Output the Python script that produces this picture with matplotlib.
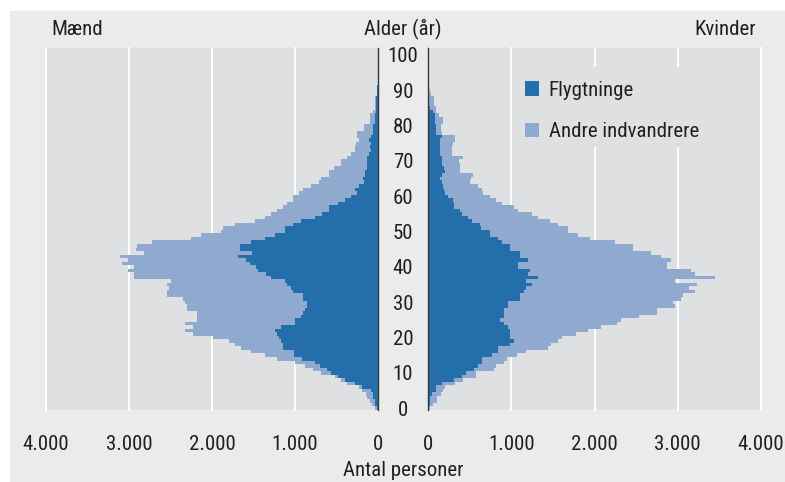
import matplotlib
matplotlib.use('Agg')
import matplotlib.pyplot as plt
import numpy as np
from matplotlib import font_manager, transforms
from matplotlib.patches import Rectangle

ages = np.arange(100)

# Mænd (venstre side)
men_refugees = [16, 36, 36, 56, 56, 84, 193, 277, 398, 482,
                567, 615, 700, 760, 917, 1013, 1013, 1142, 1146, 1170,
                1194, 1218, 1242, 1170, 1001, 1001, 929, 905, 880, 856,
                856, 905, 905, 1025, 1049, 1097, 1122, 1290, 1351, 1447,
                1471, 1544, 1592, 1688, 1520, 1664, 1664, 1532, 1363, 1242,
                1122, 1122, 1025, 929, 760, 675, 591, 591, 482, 398,
                326, 257, 277, 229, 169, 181, 157, 157, 133, 133,
                133, 133, 109, 84, 96, 84, 109, 84, 60, 60,
                60, 36, 36, 36, 28, 28, 28, 28, 28, 12,
                12, 12, 6, 4, 2, 1, 0, 0, 0, 0]
men_total = [36, 70, 96, 130, 145, 193, 230, 374, 440, 518,
             687, 784, 880, 1001, 1218, 1363, 1532, 1652, 1725, 1797,
             1990, 2231, 2328, 2231, 2328, 2183, 2183, 2183, 2303, 2303,
             2328, 2352, 2545, 2545, 2521, 2545, 2496, 2943, 2943, 3015,
             2943, 3087, 3015, 3111, 2822, 2918, 2900, 2726, 2255, 2135,
             1893, 1869, 1725, 1483, 1363, 1290, 1218, 1146, 1100, 1025,
             1025, 953, 905, 808, 712, 687, 591, 591, 531, 446,
             446, 374, 326, 277, 277, 265, 229, 253, 253, 169,
             169, 96, 96, 96, 60, 36, 36, 36, 36, 12,
             12, 12, 6, 4, 2, 1, 0, 0, 0, 0]

# Kvinder (højre side)
women_refugees = [8, 20, 24, 20, 44, 92, 92, 164, 308, 404,
                  452, 548, 596, 644, 644, 764, 836, 836, 980, 1028,
                  980, 980, 980, 956, 908, 860, 908, 908, 908, 956,
                  956, 1100, 1100, 1148, 1172, 1244, 1172, 1316, 1196, 1220,
                  1076, 1076, 1196, 1100, 1100, 980, 980, 884, 836, 740,
                  740, 632, 620, 524, 476, 404, 380, 308, 308, 296,
                  236, 200, 188, 176, 164, 140, 164, 200, 188, 164,
                  164, 164, 140, 140, 140, 140, 140, 164, 92, 92,
                  92, 80, 80, 80, 60, 20, 12, 8, 8, 6,
                  4, 2, 0, 0, 0, 0, 0, 0, 0, 0]
women_total = [20, 60, 104, 104, 152, 176, 200, 320, 416, 572,
               572, 788, 812, 908, 944, 1064, 1172, 1436, 1472, 1556,
               1604, 1772, 1916, 2084, 2276, 2324, 2540, 2756, 2756, 2972,
               2948, 3044, 3068, 3212, 3140, 3236, 2972, 3452, 3212, 3164,
               2876, 2876, 2924, 2804, 2684, 2468, 2468, 2252, 1940, 1796,
               1676, 1676, 1556, 1460, 1316, 1244, 1076, 1028, 884, 812,
               740, 656, 644, 596, 500, 512, 536, 380, 380, 380,
               368, 416, 284, 284, 284, 296, 320, 320, 164, 152,
               152, 176, 176, 128, 92, 92, 68, 68, 68, 32,
               20, 10, 4, 0, 0, 0, 0, 0, 0, 0]

x_ticks = [0, 1000, 2000, 3000, 4000]
x_labels = ['0', '1.000', '2.000', '3.000', '4.000']
age_ticks = list(range(0, 101, 10))

names = {f.name for f in font_manager.fontManager.ttflist}
fs = 14
for fam, size in [('Liberation Sans Narrow', 15), ('Roboto Condensed', 15),
                  ('Open Sans Condensed', 15), ('Roboto', 14)]:
    if fam in names:
        plt.rcParams['font.family'] = fam
        fs = size
        break

dark = '#236eab'
light = '#8fa9cf'
panel = '#dfe0e1'
outer = '#ebebec'
txt = '#231f20'

W, H = 785, 482
fig = plt.figure(figsize=(W / 100, H / 100), dpi=100, facecolor='white')
fig.patches.append(Rectangle((10 / W, 0), 775 / W, 471 / H, transform=fig.transFigure,
                             color=outer, zorder=-10))

axL = fig.add_axes([46 / W, 72 / H, 332 / W, 362 / H])
axR = fig.add_axes([428 / W, 72 / H, 333 / W, 362 / H])

for ax, ref, tot, inner in [(axL, men_refugees, men_total, 'right'),
                            (axR, women_refugees, women_total, 'left')]:
    ref = np.array(ref)
    tot = np.array(tot)
    ax.set_facecolor(panel)
    for v in x_ticks[1:]:
        ax.axvline(v, color='white', lw=1.4, zorder=0.5, clip_on=False)
    b1 = ax.barh(ages, ref, height=1, align='edge', color=dark, lw=0, zorder=2,
                 label='Flygtninge')
    b2 = ax.barh(ages, tot - ref, left=ref, height=1, align='edge', color=light, lw=0,
                 zorder=2, label='Andre indvandrere')
    ax.set_ylim(0, 102.5)
    ax.set_yticks([])
    ax.set_xticks(x_ticks)
    ax.set_xticklabels(x_labels)
    ax.tick_params(axis='x', length=0, labelsize=fs, labelcolor=txt, pad=18)
    for s in ax.spines.values():
        s.set_visible(False)
    ax.spines[inner].set_visible(True)
    ax.spines[inner].set_color('#3a3a3a')
    ax.spines[inner].set_linewidth(1.0)
    ax.spines[inner].set_zorder(4)

axL.set_xlim(4000, 0)
axR.set_xlim(0, 4000)

# legend area hides the grid lines
axR.add_patch(Rectangle((0.26, 0.726), 0.62, 0.221, transform=axR.transAxes,
                        color=panel, lw=0, zorder=1))
axR.legend(handles=[b1, b2], loc='upper left', bbox_to_anchor=(0.29, 0.91),
           frameon=False, fontsize=fs, handlelength=0.7, handleheight=0.7,
           handletextpad=0.45, labelspacing=1.1, borderpad=0, borderaxespad=0,
           labelcolor=txt)

# age labels in the gap
trans = transforms.blended_transform_factory(fig.transFigure, axR.transData)
for a in age_ticks:
    fig.text(403 / W, a, str(a), transform=trans, ha='center', va='center',
             fontsize=fs, color=txt)

fig.text(51 / W, 1 - 35 / H, 'Mænd', ha='left', va='baseline', fontsize=fs, color=txt)
fig.text(403 / W, 1 - 35 / H, 'Alder (år)', ha='center', va='baseline', fontsize=fs, color=txt)
fig.text(756 / W, 1 - 35 / H, 'Kvinder', ha='right', va='baseline', fontsize=fs, color=txt)
fig.text(403 / W, 1 - 476 / H, 'Antal personer', ha='center', va='baseline', fontsize=fs,
         color=txt)

fig.savefig('out.png', dpi=100, facecolor='white')
